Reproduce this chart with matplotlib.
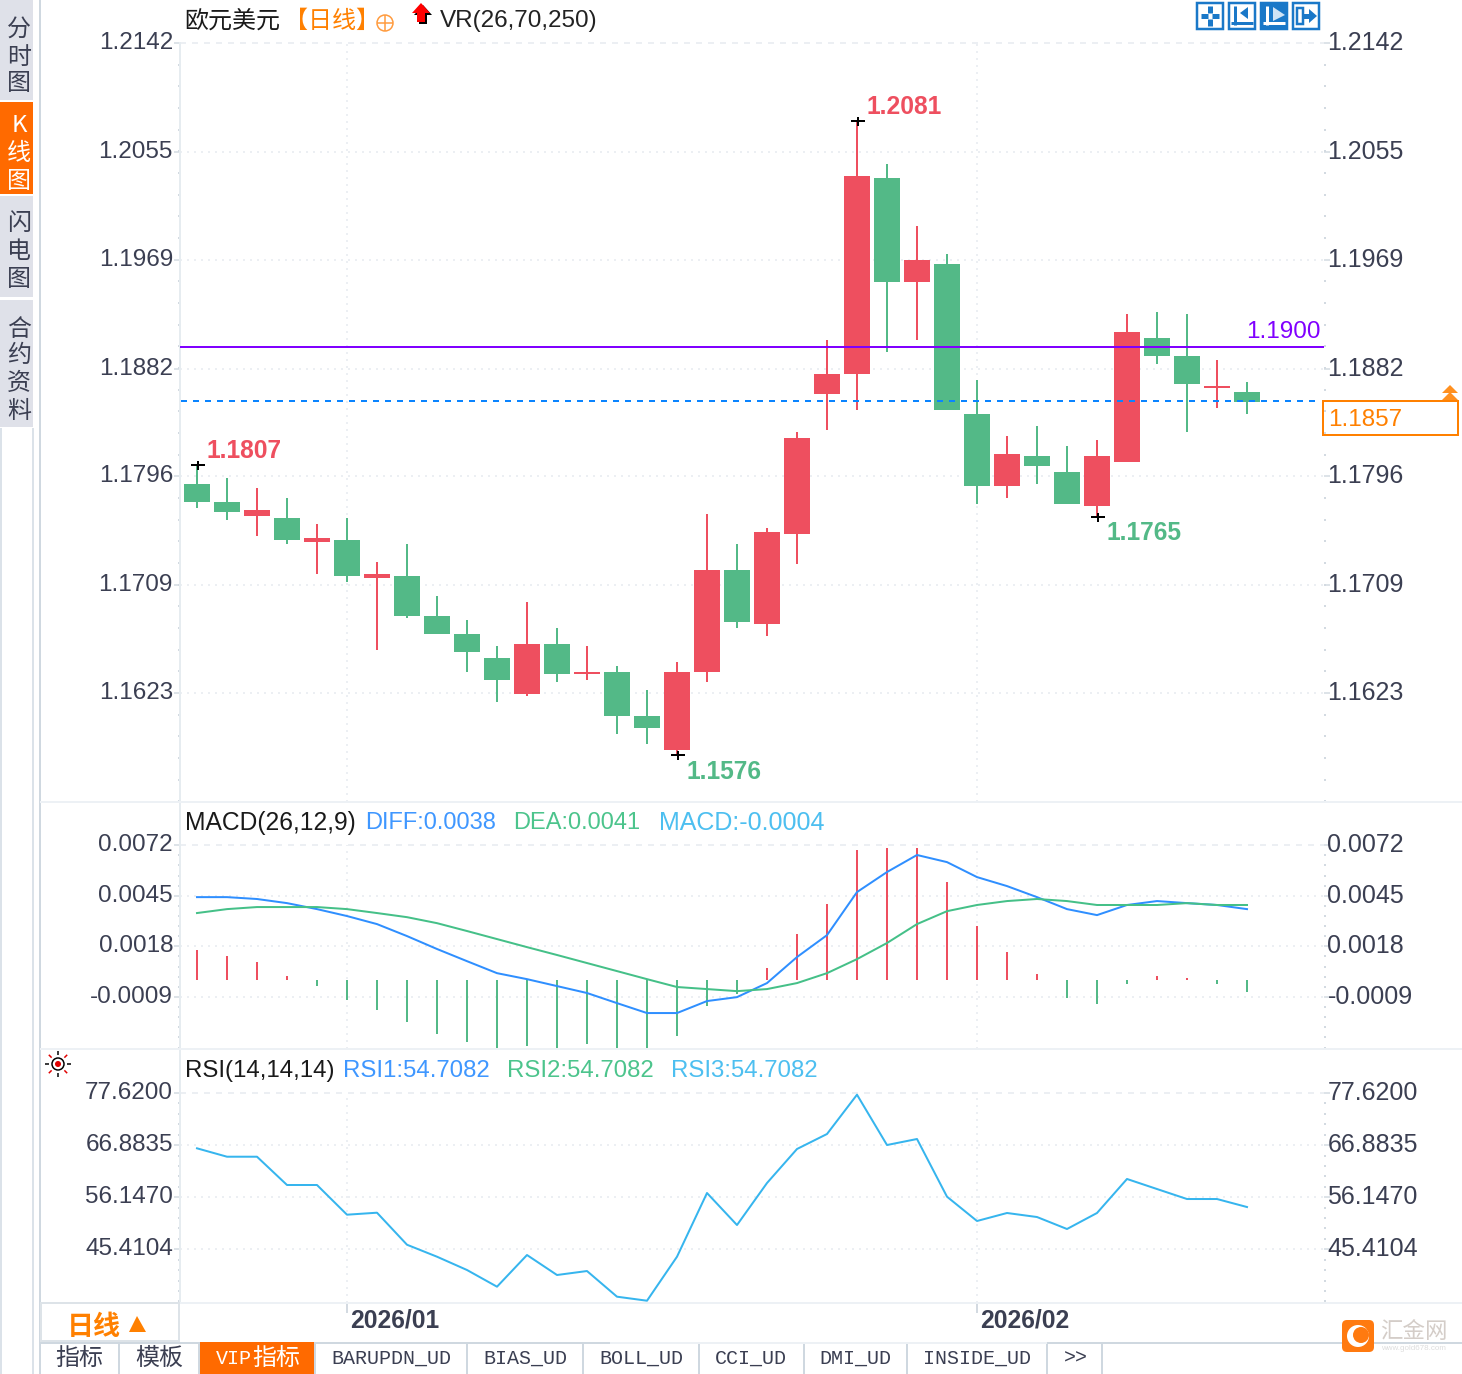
import numpy as np
import matplotlib
matplotlib.use("Agg")
import matplotlib.pyplot as plt
from matplotlib.patches import Rectangle, Polygon, Circle, FancyBboxPatch
from matplotlib.transforms import ScaledTranslation

W, H, DPI = 1462, 1374, 100
PX = 72 / DPI
SANS = "Liberation Sans"
CJK = "Noto Sans CJK SC"
MONO = "Liberation Mono"
plt.rcParams["font.family"] = [SANS, CJK, "DejaVu Sans"]

# ---------- data ----------
opens = [1.17899, 1.17755, 1.17643, 1.17627, 1.17435, 1.17451, 1.17148, 1.17164, 1.16844, 1.16701,
         1.16509, 1.16221, 1.16621, 1.16381, 1.16397, 1.16046, 1.15774, 1.16397, 1.17212, 1.16780,
         1.17499, 1.18617, 1.18777, 1.20342, 1.19511, 1.19655, 1.18457, 1.17882, 1.18122, 1.17994,
         1.17723, 1.18074, 1.19064, 1.18920, 1.18665, 1.18633]
closes = [1.17755, 1.17675, 1.17691, 1.17451, 1.17467, 1.17164, 1.17180, 1.16844, 1.16701, 1.16557,
          1.16333, 1.16621, 1.16381, 1.16397, 1.16046, 1.15950, 1.16397, 1.17212, 1.16796, 1.17515,
          1.18266, 1.18777, 1.20358, 1.19511, 1.19687, 1.18489, 1.17882, 1.18138, 1.18042, 1.17739,
          1.18122, 1.19112, 1.18920, 1.18697, 1.18681, 1.18553]
highs = [1.18050, 1.17946, 1.17866, 1.17786, 1.17579, 1.17627, 1.17275, 1.17419, 1.17004, 1.16812,
         1.16605, 1.16956, 1.16748, 1.16605, 1.16445, 1.16253, 1.16477, 1.17659, 1.17419, 1.17547,
         1.18313, 1.19048, 1.20799, 1.20453, 1.19958, 1.19735, 1.18729, 1.18282, 1.18361, 1.18202,
         1.18250, 1.19256, 1.19272, 1.19256, 1.18888, 1.18713]
lows = [1.17707, 1.17611, 1.17483, 1.17419, 1.17180, 1.17116, 1.16573, 1.16828, 1.16701, 1.16397,
        1.16158, 1.16205, 1.16317, 1.16333, 1.15902, 1.15822, 1.15734, 1.16317, 1.16748, 1.16685,
        1.17259, 1.18329, 1.18489, 1.18952, 1.19048, 1.18489, 1.17739, 1.17786, 1.17899, 1.17739,
        1.17635, 1.18074, 1.18856, 1.18313, 1.18505, 1.18457]
price_ticks = [1.2142, 1.2055, 1.1969, 1.1882, 1.1796, 1.1709, 1.1623]
alert_price = 1.18992
alert_label = "1.1900"
last_price = 1.18561
last_label = "1.1857"
extremes = [(0, 1.18050, "1.1807", True), (22, 1.20799, "1.2081", True),
            (16, 1.15734, "1.1576", False), (30, 1.17635, "1.1765", False)]

macd_hist = [.00160, .00128, .00096, .00021, -.00032, -.00107, -.00160, -.00224, -.00288, -.00331,
             -.00363, -.00352, -.00363, -.00342, -.00363, -.00363, -.00299, -.00139, -.00075, .00064,
             .00246, .00406, .00694, .00705, .00705, .00523, .00288, .00150, .00032, -.00096,
             -.00128, -.00021, .00021, .00011, -.00021, -.00064]
diff = [.00443, .00443, .00433, .00411, .00379, .00342, .00299, .00235, .00166, .00101,
        .00037, .00005, -.00032, -.00069, -.00123, -.00176, -.00176, -.00112, -.00091, -.00016,
        .00123, .00240, .00470, .00577, .00668, .00630, .00550, .00502, .00443, .00379,
        .00347, .00401, .00422, .00411, .00401, .00379]
dea = [.00358, .00379, .00390, .00390, .00390, .00379, .00358, .00336, .00304, .00262,
       .00219, .00176, .00134, .00091, .00048, .00005, -.00037, -.00048, -.00059, -.00048,
       -.00016, .00037, .00112, .00198, .00299, .00368, .00401, .00422, .00433, .00422,
       .00401, .00401, .00401, .00411, .00401, .00401]
macd_ticks = [0.0072, 0.0045, 0.0018, -0.0009]

rsi = [66.22, 64.49, 64.49, 58.66, 58.66, 52.54, 52.95, 46.35, 43.88, 41.14,
       37.70, 44.23, 40.11, 40.93, 35.64, 34.81, 43.88, 57.01, 50.41, 59.07,
       66.08, 69.17, 77.27, 66.90, 68.14, 56.25, 51.24, 52.89, 52.06, 49.59,
       52.89, 59.90, 57.83, 55.77, 55.77, 54.12]
rsi_ticks = [77.62, 66.8835, 56.147, 45.4104]

month_idx = [5, 26]
month_labels = ["2026/01", "2026/02"]

# ---------- styles ----------
RED, GREEN = "#ee4f5f", "#53b987"
GRID, AXC, TXT = "#eceff3", "#d3dae1", "#3b3f52"
ORANGE, TAB_OR = "#ff8000", "#ff6a00"
BLUE_L, GREEN_L, CYAN_L = "#3f97ff", "#4cc48c", "#4dbff0"
ICON = "#1a78c8"
FS = 24.3 * PX

fig = plt.figure(figsize=(W / DPI, H / DPI), dpi=DPI, facecolor="white")


def shift(dx, dy):
    return ScaledTranslation(dx / DPI, dy / DPI, fig.dpi_scale_trans)


def panel(top, bottom, ylim, ticks, minor_step, fmt="{:.4f}"):
    ax = fig.add_axes([180 / W, 1 - bottom / H, (1324 - 180) / W, (bottom - top) / H])
    ax.set_xlim(-17 / 30, 1127 / 30)
    ax.set_ylim(*ylim)
    ax.patch.set_visible(False)
    for s in ("top", "right", "bottom"):
        ax.spines[s].set_visible(False)
    ax.spines["left"].set_color("#e6ecf0")
    ax.spines["left"].set_linewidth(2 * PX)
    ax.set_yticks(ticks)
    ax.set_yticklabels([fmt.format(t) for t in ticks])
    minor = np.arange(ticks[0] - minor_step, ylim[0], -minor_step)
    ax.set_yticks(minor, minor=True)
    ax.tick_params(axis="y", which="major", left=True, right=True, labelleft=True, labelright=True,
                   length=6 * PX, width=1.5 * PX, color=AXC, labelsize=FS, labelcolor=TXT, pad=1 * PX)
    ax.tick_params(axis="y", which="minor", left=True, right=True, length=2 * PX, width=2 * PX, color=AXC)
    ax.set_xticks([])
    ax.hlines(ticks[0], *ax.get_xlim(), color=GRID, lw=2 * PX, linestyles=[(0, (3, 3))], zorder=0)
    ax.hlines(ticks[1:], *ax.get_xlim(), color=GRID, lw=2 * PX, linestyles=[(0, (1, 2.5))], zorder=0)
    ax.vlines(month_idx, ylim[0], ticks[0], color=GRID, lw=2 * PX, linestyles=[(0, (1, 2.5))], zorder=0)
    for t in ax.yaxis.get_major_ticks():
        t.label1.set_transform(t.label1.get_transform() + shift(0, 2.5))
        t.label2.set_transform(t.label2.get_transform() + shift(-3.5, 2.5))
        t.label2.set_fontsize(25 * PX)
    return ax


xs = np.arange(len(opens))
ax1 = panel(0, 802, (1.15359, 1.21763), price_ticks, 0.00173)
ax1.spines["left"].set_bounds(1.15359, price_ticks[0])
colors = [RED if c >= o else GREEN for o, c in zip(opens, closes)]
ax1.vlines(xs, lows, highs, color=colors, lw=2 * PX, zorder=2)
ax1.bar(xs, np.abs(np.array(closes) - np.array(opens)), bottom=np.minimum(opens, closes),
        width=26 / 30, color=colors, linewidth=0, zorder=3)
ax1.axhline(alert_price, color="#8000ff", lw=2 * PX, zorder=4)
ax1.hlines(last_price, -0.53, 37.37, color="#0a84ff", lw=2 * PX, linestyles=[(0, (3, 3))], zorder=4)
for i, v, label, up in extremes:
    ax1.plot([i + 0.04], [v], marker="_", ms=14 * PX, mew=2 * PX, color="black", zorder=5, ls="none")
    ax1.plot([i + 0.04], [v], marker="|", ms=9 * PX, mew=2 * PX, color="black", zorder=5, ls="none")
    ax1.annotate(label, xy=(i, v), xytext=(10 * PX, (13.5 if up else -16.5) * PX), textcoords="offset points",
                 ha="left", va="center", fontsize=24.6 * PX, fontweight="bold", color=RED if up else GREEN)
ax1.annotate(alert_label, xy=(1, alert_price), xycoords=("axes fraction", "data"),
             xytext=(-3 * PX, 15 * PX), textcoords="offset points", ha="right", va="center",
             fontsize=FS, color="#8000ff")
ax1.annotate(last_label, xy=(1, last_price), xycoords=("axes fraction", "data"),
             xytext=(4 * PX, -19 * PX), textcoords="offset points", ha="left", va="center",
             fontsize=FS, color=ORANGE, annotation_clip=False)

ax2 = panel(802, 1049, (-.00368, .00951), macd_ticks, 0.00054)
ax2.vlines(xs, 0, macd_hist, color=[RED if m > 0 else GREEN for m in macd_hist], lw=2 * PX, zorder=2)
ax2.plot(xs, diff, color="#2f8fff", lw=2 * PX, zorder=3)
ax2.plot(xs, dea, color="#45c088", lw=2 * PX, zorder=3)

ax3 = panel(1049, 1303, (34.34, 86.69), rsi_ticks, 2.1473)
ax3.plot(xs, rsi, color="#36b5ee", lw=2 * PX, zorder=3)
ax3.set_xticks(month_idx)
ax3.set_xticklabels(month_labels, ha="left", fontsize=24.6 * PX, fontweight="bold", color=TXT)
ax3.tick_params(axis="x", length=10 * PX, width=2 * PX, color=AXC, pad=-4 * PX)
for t in ax3.xaxis.get_major_ticks():
    t.label1.set_transform(t.label1.get_transform() + shift(3, 0))

# ---------- interface chrome, in pixel space ----------
ui = fig.add_axes([0, 0, 1, 1], zorder=10)
ui.set_xlim(0, W)
ui.set_ylim(H, 0)
ui.axis("off")


def rect(x0, y0, x1, y1, fc="none", ec="none", lw=0, z=1):
    ui.add_patch(Rectangle((x0, y0), x1 - x0, y1 - y0, facecolor=fc, edgecolor=ec, linewidth=lw * PX, zorder=z))


def line(xa, ya, color, lw=2, z=2):
    ui.plot(xa, ya, color=color, lw=lw * PX, solid_capstyle="butt", zorder=z)


def text(x, y, s, color=TXT, size=24, family=SANS, ha="left", weight="normal"):
    ui.text(x, y + 2, s, color=color, fontsize=size * PX, family=family, ha=ha, va="center", fontweight=weight, zorder=5)


# left tabs
TAB_BG = "#dfe1e9"
for y0, y1, bg, fg, chars in [
    (0, 100, TAB_BG, "#3b3f52", [("分", 27), ("时", 55), ("图", 82)]),
    (102, 194, TAB_OR, "white", [("K", 123), ("线", 152), ("图", 179)]),
    (196, 297, TAB_BG, "#3b3f52", [("闪", 222), ("电", 250), ("图", 277)]),
    (300, 427, TAB_BG, "#3b3f52", [("合", 327), ("约", 354), ("资", 381), ("料", 409)]),
]:
    rect(0, y0, 33, y1, fc=bg)
    for ch, yc in chars:
        text(19, yc, ch, color=fg, size=24, family=CJK, ha="center")
line([1, 1], [428, H], "#dbe2e9", 2)
line([33, 33], [428, H], "#dbe2e9", 2)
line([39.5, 39.5], [0, H], "#cfd8e0", 2)

# panel separators
for yy in (802, 1049, 1303):
    line([40, W], [yy, yy], "#edf1f5", 2)

# header
text(184, 19, "欧元美元", color="#1a1a1a", family=CJK)
text(284, 19, "【日线】", color=ORANGE, family=CJK)
ui.add_patch(Circle((385, 23), 8, fc="none", ec="#ff9a3c", lw=1.5 * PX, zorder=3))
line([377, 393], [23, 23], "#ff9a3c", 1.5, 3)
line([385, 385], [15, 31], "#ff9a3c", 1.5, 3)
arrow = [(421, 3), (430, 13), (425, 13), (425, 22), (417, 22), (417, 13), (412, 13)]
ui.add_patch(Polygon([(x + 2, y + 2) for x, y in arrow], fc="black", ec="none", zorder=3))
ui.add_patch(Polygon(arrow, fc="#ff0000", ec="none", zorder=4))
text(440, 19, "VR(26,70,250)", color="#222222", size=24.3)

# zoom icons
for k, x0 in enumerate((1197, 1229, 1261, 1293)):
    rect(x0, 3, x0 + 26, 29, fc=ICON if k == 2 else "white", ec=ICON, lw=2.5, z=3)
line([1201, 1208], [16, 16], ICON, 5, 4); line([1212, 1219], [16, 16], ICON, 5, 4)
line([1210, 1210], [6, 13], ICON, 5, 4); line([1210, 1210], [19, 26], ICON, 5, 4)
line([1235, 1235], [6, 25], ICON, 3, 4); line([1231, 1253], [23, 23], ICON, 3, 4)
ui.add_patch(Polygon([(1240, 13), (1248, 7), (1248, 19)], fc=ICON, zorder=4))
line([1267, 1267], [6, 25], "white", 3, 4); line([1263, 1285], [23, 23], "white", 3, 4)
ui.add_patch(Polygon([(1273, 7), (1285, 15), (1273, 21)], fc="#cfe3f5", zorder=4))
rect(1297, 8, 1303, 24, ec=ICON, lw=2.5, z=4)
line([1303, 1310], [16, 16], ICON, 5, 4)
ui.add_patch(Polygon([(1309, 9), (1317, 16), (1309, 23)], fc=ICON, zorder=4))

# last price box and arrows
rect(1323, 401, 1458, 435, ec=ORANGE, lw=2, z=3)
for yy in (385, 392):
    ui.add_patch(Polygon([(1450, yy), (1458, yy + 8), (1442, yy + 8)], fc="#ff9020", zorder=4))

# indicator captions
text(185, 821, "MACD(26,12,9)", color="#1a1a1a", size=24.6)
text(365, 821, "DIFF:0.0038", color=BLUE_L, size=23.6)
text(513, 821, "DEA:0.0041", color=GREEN_L, size=23.6)
text(659, 821, "MACD:-0.0004", color=CYAN_L, size=25)
text(185, 1069, "RSI(14,14,14)", color="#1a1a1a")
text(343, 1069, "RSI1:54.7082", color=BLUE_L)
text(507, 1069, "RSI2:54.7082", color=GREEN_L)
text(671, 1069, "RSI3:54.7082", color=CYAN_L)

# settings sun icon
ui.add_patch(Circle((58, 1064), 6, fc="none", ec="black", lw=1.5 * PX, zorder=3))
ui.add_patch(Circle((58, 1064), 3, fc="#e00000", ec="none", zorder=4))
for a in np.arange(0, 360, 45):
    ca, sa = np.cos(np.radians(a)), np.sin(np.radians(a))
    line([58 + 9 * ca, 58 + 13 * ca], [1064 + 9 * sa, 1064 + 13 * sa], "#e00000" if a % 90 else "black", 1.5, 3)

# period selector
rect(41, 1303, 179, 1341, fc="white", ec="#dde3e8", lw=2, z=3)
text(94, 1325, "日线", color=ORANGE, family=CJK, ha="center", size=27, weight="bold")
ui.add_patch(Polygon([(137, 1316), (146, 1332), (129, 1332)], fc=ORANGE, zorder=5))

# bottom tabs
line([40, 610], [1343, 1343], "#cfd8e0", 2)
line([610, 1047], [1343, 1343], "#edf1f5", 2)
line([1047, W], [1343, 1343], "#cfd8e0", 2)
for xs_sep in (119, 199, 315, 467, 583, 699, 804, 907, 1047, 1102):
    line([xs_sep, xs_sep], [1344, H], "#cfd8e0", 2)
rect(200, 1342, 314, H, fc=TAB_OR, z=3)
text(79, 1356, "指标", family=CJK, ha="center", size=24)
text(159, 1356, "模板", family=CJK, ha="center", size=24)
text(216, 1356, "VIP", color="white", family=MONO, size=20)
text(252, 1356, "指标", color="white", family=CJK, size=24)
for cx, label in [(391, "BARUPDN_UD"), (525, "BIAS_UD"), (641, "BOLL_UD"), (751, "CCI_UD"),
                  (855, "DMI_UD"), (977, "INSIDE_UD"), (1076, ">>")]:
    text(cx, 1356, label, family=MONO, ha="center", size=20)

# logo
ui.add_patch(FancyBboxPatch((1342, 1320), 32, 32, boxstyle="round,pad=0,rounding_size=5", fc="#ff7a10", ec="none", zorder=3))
ui.add_patch(Circle((1358, 1336), 11, fc="white", ec="none", zorder=4))
ui.add_patch(Circle((1361, 1335), 8, fc="#ff7a10", ec="none", zorder=5))
text(1380, 1330, "汇金网", color="#d4cdc8", family=CJK, size=22.5)
text(1381, 1346, "www.gold678.com", color="#dddddd", size=8)

fig.savefig("out.png", dpi=DPI, facecolor="white")
